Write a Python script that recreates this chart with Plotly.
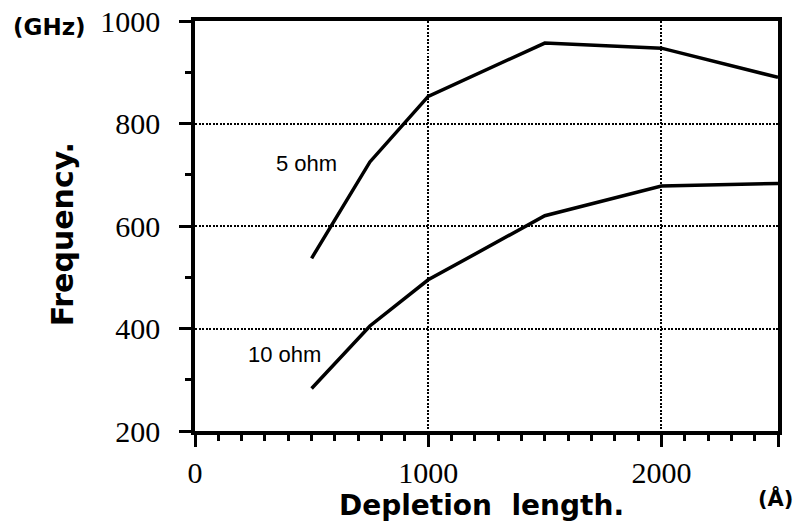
import plotly.graph_objects as go

# Data
depletion = [500, 750, 1000, 1500, 2000, 2500]          # Å
freq_5ohm = [537, 725, 853, 957, 947, 890]              # GHz
freq_10ohm = [283, 405, 495, 620, 678, 683]             # GHz

x_tickvals = [0, 1000, 2000, 2500]
x_ticktext = ["0", "1000", "2000", ""]
y_tickvals = [200, 400, 600, 800, 1000]
y_ticktext = ["200", "400", "600", "800", "1000"]

fig = go.Figure()
fig.add_trace(go.Scatter(x=depletion, y=freq_5ohm, mode="lines",
                         line=dict(color="black", width=3.5), name="5 ohm",
                         showlegend=False))
fig.add_trace(go.Scatter(x=depletion, y=freq_10ohm, mode="lines",
                         line=dict(color="black", width=3.5), name="10 ohm",
                         showlegend=False))

tick_font = dict(family="Liberation Serif", size=30, color="black")

fig.update_layout(
    width=794, height=523,
    margin=dict(l=195, r=16, t=21, b=92),
    paper_bgcolor="white", plot_bgcolor="white",
    showlegend=False,
    xaxis=dict(
        range=[0, 2500], tickvals=x_tickvals, ticktext=x_ticktext,
        ticks="outside", ticklen=12, tickwidth=2.5, tickcolor="black",
        tickfont=tick_font, ticklabelstandoff=0, automargin=False,
        showline=True, linecolor="black", linewidth=3.5, mirror=True,
        showgrid=True, gridcolor="black", gridwidth=2, griddash="2px,1.5px",
        zeroline=False,
        minor=dict(dtick=100, tick0=0, ticks="outside", ticklen=6,
                   tickwidth=2.5, tickcolor="black", showgrid=False),
    ),
    yaxis=dict(
        range=[200, 1000], tickvals=y_tickvals, ticktext=y_ticktext,
        ticks="outside", ticklen=12, tickwidth=2.5, tickcolor="black",
        tickfont=tick_font, ticklabelstandoff=13, automargin=False,
        showline=True, linecolor="black", linewidth=3.5, mirror=True,
        showgrid=True, gridcolor="black", gridwidth=2, griddash="2px,1.5px",
        zeroline=False,
        minor=dict(dtick=100, tick0=0, ticks="outside", ticklen=6,
                   tickwidth=2.5, tickcolor="black", showgrid=False),
    ),
    annotations=[
        dict(text="5 ohm", x=480, y=721, xref="x", yref="y", showarrow=False,
             font=dict(family="Liberation Sans", size=22, color="black")),
        dict(text="10 ohm", x=382, y=350, xref="x", yref="y", showarrow=False,
             font=dict(family="Liberation Sans", size=22, color="black")),
        dict(text="Frequency.", x=-0.228, y=0.48, xref="paper", yref="paper",
             textangle=-90, showarrow=False, xanchor="center", yanchor="middle",
             font=dict(family="DejaVu Sans", size=30, color="black", weight="bold")),
        dict(text="(GHz)", x=-0.25, y=0.985, xref="paper", yref="paper",
             showarrow=False, xanchor="center", yanchor="middle",
             font=dict(family="DejaVu Sans", size=23, color="black", weight="bold")),
        dict(text="Depletion\u00a0 length.", x=0.492, y=-0.181, xref="paper", yref="paper",
             showarrow=False, xanchor="center", yanchor="middle",
             font=dict(family="DejaVu Sans", size=28, color="black", weight="bold")),
        dict(text="(Å)", x=0.995, y=-0.165, xref="paper", yref="paper",
             showarrow=False, xanchor="center", yanchor="middle",
             font=dict(family="DejaVu Sans", size=21, color="black", weight="bold")),
    ],
)

fig.write_html("out.html")
